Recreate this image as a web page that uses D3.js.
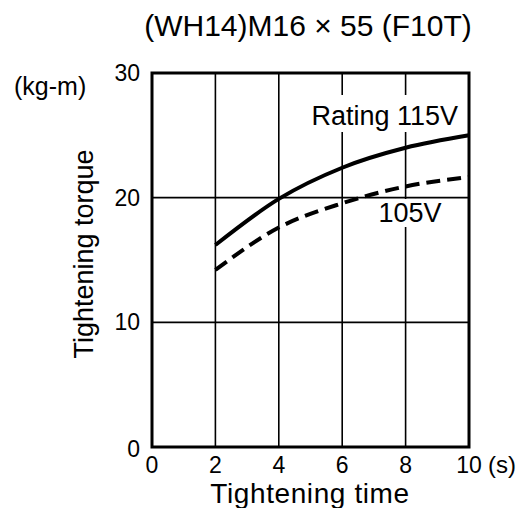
<!DOCTYPE html>
<html>
<head>
<meta charset="utf-8">
<script src="https://cdn.jsdelivr.net/npm/d3@7"></script>
<style>
  body { margin: 0; background: #fff; }
  text { font-family: "Liberation Sans", Arial, sans-serif; fill: #000; }
</style>
</head>
<body>
<svg id="chart" width="524" height="508"></svg>
<script>
'use strict';

// data
const times = [2, 4, 6, 8, 10];
const torque115 = [16.2, 19.9, 22.4, 24.0, 25.0];
const torque105 = [14.2, 17.6, 19.55, 20.9, 21.65];
const xTicks = [0, 2, 4, 6, 8, 10];
const yTicks = [0, 10, 20, 30];

const margin = { top: 73, right: 55, bottom: 61, left: 152 },
    width = 524,
    height = 508,
    innerW = width - margin.left - margin.right,
    innerH = height - margin.top - margin.bottom;

const svg = d3.select('#chart');

const x = d3.scaleLinear().domain([0, 10]).range([margin.left, margin.left + innerW]);
const y = d3.scaleLinear().domain([0, 30]).range([margin.top + innerH, margin.top]);

// grid
const grid = svg.append('g').attr('stroke', '#000').attr('stroke-width', 1.6);
grid.selectAll('.vgrid')
    .data(xTicks.slice(1, -1))
  .enter().append('line')
    .attr('x1', d => x(d)).attr('x2', d => x(d))
    .attr('y1', y(0)).attr('y2', y(30));
grid.selectAll('.hgrid')
    .data(yTicks.slice(1, -1))
  .enter().append('line')
    .attr('x1', x(0)).attr('x2', x(10))
    .attr('y1', d => y(d)).attr('y2', d => y(d));

// white boxes behind the in-plot labels
svg.append('rect')
    .attr('x', 293).attr('y', 95).attr('width', 168).attr('height', 37)
    .attr('fill', '#fff');
svg.append('rect')
    .attr('x', 373).attr('y', 199).attr('width', 72).attr('height', 28)
    .attr('fill', '#fff');

// frame
svg.append('rect')
    .attr('x', x(0)).attr('y', y(30))
    .attr('width', x(10) - x(0)).attr('height', y(0) - y(30))
    .attr('fill', 'none').attr('stroke', '#000').attr('stroke-width', 3);

// curves
const line = d3.line()
    .x(d => x(d[0]))
    .y(d => y(d[1]))
    .curve(d3.curveMonotoneX);

svg.append('path')
    .datum(d3.zip(times, torque115))
    .attr('d', line)
    .attr('fill', 'none').attr('stroke', '#000').attr('stroke-width', 4);

svg.append('path')
    .datum(d3.zip(times, torque105))
    .attr('d', line)
    .attr('fill', 'none').attr('stroke', '#000').attr('stroke-width', 4)
    .attr('stroke-dasharray', '14,7');

// tick labels
svg.selectAll('.xlabel')
    .data(xTicks)
  .enter().append('text')
    .attr('x', d => x(d))
    .attr('y', y(0) + 26)
    .attr('text-anchor', 'middle')
    .style('font-size', '23px')
    .text(d => d);

svg.selectAll('.ylabel')
    .data(yTicks)
  .enter().append('text')
    .attr('x', x(0) - 12)
    .attr('y', d => d === 0 ? y(d) + 10 : y(d) + 8)
    .attr('text-anchor', 'end')
    .style('font-size', '23px')
    .text(d => d);

svg.append('text')
    .attr('x', x(10) + 19).attr('y', y(0) + 26)
    .style('font-size', '24px')
    .text('(s)');

svg.append('text')
    .attr('x', 14).attr('y', 95)
    .style('font-size', '25px')
    .text('(kg-m)');

// titles
svg.append('text')
    .attr('x', 308).attr('y', 36)
    .attr('text-anchor', 'middle')
    .style('font-size', '30px')
    .text('(WH14)M16 \u00d7 55 (F10T)');

svg.append('text')
    .attr('x', 310).attr('y', 503)
    .attr('text-anchor', 'middle')
    .style('font-size', '28px')
    .style('letter-spacing', '0.6px')
    .text('Tightening time');

svg.append('text')
    .attr('transform', 'translate(93,254) rotate(-90)')
    .attr('text-anchor', 'middle')
    .style('font-size', '27px')
    .text('Tightening torque');

// series labels
svg.append('text')
    .attr('x', 458).attr('y', 125)
    .attr('text-anchor', 'end')
    .style('font-size', '27px')
    .text('Rating 115V');

svg.append('text')
    .attr('x', 410).attr('y', 222)
    .attr('text-anchor', 'middle')
    .style('font-size', '27px')
    .text('105V');
</script>
</body>
</html>
